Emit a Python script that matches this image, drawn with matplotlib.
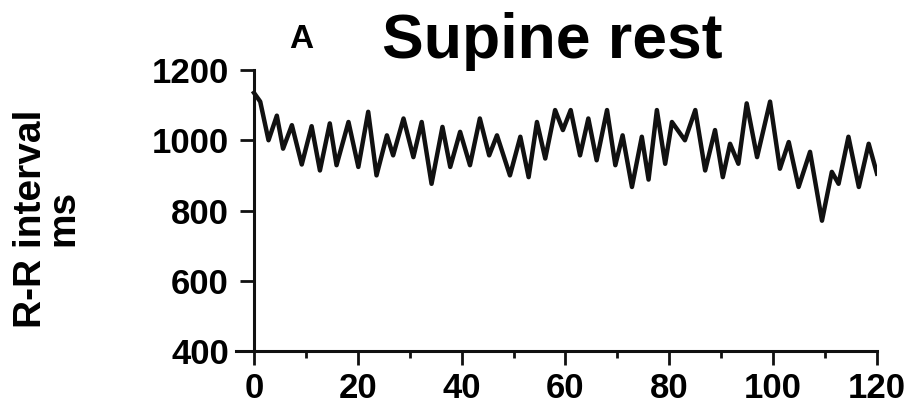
import matplotlib
matplotlib.use("Agg")
import matplotlib.pyplot as plt
from matplotlib.ticker import MultipleLocator

plt.rcParams['font.family'] = ['Liberation Sans', 'DejaVu Sans']
plt.rcParams['font.weight'] = 'bold'

# Beat-to-beat R-R interval during supine rest (turning points of the trace)
time_s = [0.0, 1.2, 2.8, 4.4, 5.6, 7.3, 9.2, 11.1, 12.7, 14.6, 15.9, 18.2, 20.1,
          22.0, 23.6, 25.6, 26.8, 28.8, 30.7, 32.3, 34.2, 36.3, 37.8, 39.7, 41.6,
          43.5, 45.3, 46.8, 49.3, 51.3, 52.9, 54.5, 56.1, 58.0, 59.5, 61.0, 62.8,
          64.4, 66.0, 68.0, 69.6, 71.0, 72.8, 74.7, 76.0, 77.6, 79.2, 80.5, 83.0,
          85.0, 86.9, 88.8, 90.3, 91.7, 93.3, 94.9, 96.9, 99.4, 101.3, 103.0,
          104.9, 107.1, 109.4, 111.3, 112.6, 114.5, 116.5, 118.4, 120.0]
rr_ms = [1135, 1110, 1000, 1070, 976, 1043, 931, 1040, 914, 1048, 929, 1052, 924,
         1081, 900, 1014, 957, 1062, 952, 1052, 876, 1038, 924, 1024, 929,
         1062, 957, 1014, 900, 1010, 895, 1052, 948, 1086, 1029, 1086, 957,
         1062, 943, 1086, 929, 1014, 867, 1010, 888, 1086, 933, 1052, 1000,
         1086, 914, 1029, 895, 990, 933, 1105, 952, 1110, 919, 995,
         867, 967, 771, 910, 876, 1010, 867, 990, 905]

x_ticks = [0, 20, 40, 60, 80, 100, 120]
y_ticks = [400, 600, 800, 1000, 1200]

fig = plt.figure(figsize=(9.09, 4.20), dpi=100)
ax = fig.add_axes([0.260, 0.1643, 0.7048, 0.669])

ax.plot(time_s, rr_ms, color='#111111', linewidth=3.2, solid_joinstyle='round')

ax.set_xlim(-3.4, 120)
ax.set_ylim(400, 1200)
ax.spines['left'].set_position(('data', 0))
ax.spines['top'].set_visible(False)
ax.spines['right'].set_visible(False)
for side in ('left', 'bottom'):
    ax.spines[side].set_linewidth(2.2)
    ax.spines[side].set_color('#111111')

ax.set_xticks(x_ticks)
ax.xaxis.set_minor_locator(MultipleLocator(10))
ax.set_yticks(y_ticks)
ax.tick_params(axis='x', which='major', direction='out', length=10, width=2.0,
               pad=5, labelsize=25, color='#111111')
ax.tick_params(axis='x', which='minor', direction='out', length=5, width=2.0,
               color='#111111')
ax.tick_params(axis='y', which='major', direction='out', length=10, width=2.0,
               pad=8, labelsize=25, color='#111111')
for lab in ax.get_xticklabels() + ax.get_yticklabels():
    lab.set_fontweight('bold')

fig.text(0.052, 0.48, 'R-R interval\nms', rotation=90, ha='center', va='center',
         fontsize=28, fontweight='bold', linespacing=0.9)
fig.text(0.608, 0.862, 'Supine rest', ha='center', va='baseline',
         fontsize=45, fontweight='bold')
fig.text(0.331, 0.885, 'A', ha='center', va='baseline',
         fontsize=24, fontweight='bold')

fig.savefig('out.png', dpi=100, facecolor='white')
